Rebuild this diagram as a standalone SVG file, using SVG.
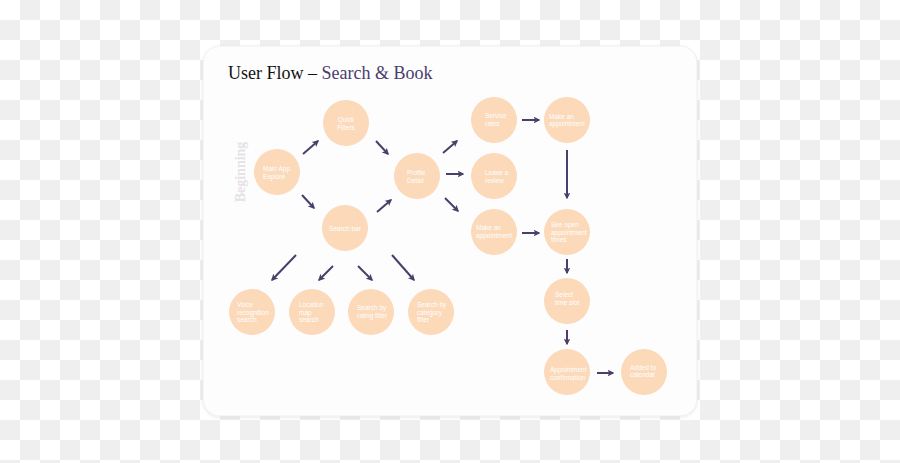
<svg xmlns="http://www.w3.org/2000/svg" width="900" height="463" viewBox="0 0 900 463">
<defs>
<pattern id="chk" width="40" height="40" patternUnits="userSpaceOnUse">
<rect width="40" height="40" fill="#ffffff"/>
<rect x="20" y="0" width="20" height="20" fill="#efefef"/>
<rect x="0" y="20" width="20" height="20" fill="#efefef"/>
</pattern>
<filter id="sh" x="-10%" y="-10%" width="120%" height="120%">
<feDropShadow dx="0" dy="1" stdDeviation="1.5" flood-color="#000" flood-opacity="0.1"/>
</filter>
<marker id="ah" viewBox="0 0 10 10" refX="8" refY="5" markerWidth="3.4" markerHeight="3.4" orient="auto" markerUnits="strokeWidth">
<path d="M0,0 L10,5 L0,10 L2.5,5 z" fill="#4a3e6a"/>
</marker>
<style>
.n{fill:#fbd9b9}
.t{font-family:"Liberation Sans",Arial,sans-serif;font-size:6.5px;fill:#ffffff}
.c{text-anchor:middle}
.a{stroke:#4a3e6a;stroke-width:2;fill:none;marker-end:url(#ah)}
</style>
</defs>
<rect width="900" height="463" fill="url(#chk)"/>
<rect x="203" y="46" width="494" height="370" rx="17" fill="#fefdfe" stroke="#eeebed" stroke-width="0.8" filter="url(#sh)"/>
<text x="228" y="79" font-family="'Liberation Serif','Times New Roman',serif" font-size="18"><tspan fill="#111111">User Flow – </tspan><tspan fill="#4a3e6a">Search &amp; Book</tspan></text>
<text transform="translate(245,172) rotate(-90)" text-anchor="middle" font-family="'Liberation Serif','Times New Roman',serif" font-size="14" font-weight="bold" fill="#e6e2e5">Beginning</text>
<g id="connectors">
<line class="a" x1="303" y1="154" x2="318" y2="141"/>
<line class="a" x1="302" y1="195" x2="314" y2="208"/>
<line class="a" x1="376" y1="141" x2="388" y2="154"/>
<line class="a" x1="377" y1="212" x2="391" y2="200"/>
<line class="a" x1="443" y1="153" x2="457" y2="141"/>
<line class="a" x1="446" y1="174" x2="463" y2="174"/>
<line class="a" x1="445" y1="198" x2="458" y2="211"/>
<line class="a" x1="522" y1="120" x2="539" y2="120"/>
<line class="a" x1="522" y1="233" x2="539" y2="233"/>
<line class="a" x1="567" y1="150" x2="567" y2="198"/>
<line class="a" x1="567" y1="259" x2="567" y2="273"/>
<line class="a" x1="567" y1="330" x2="567" y2="344"/>
<line class="a" x1="597" y1="373" x2="613" y2="373"/>
<line class="a" x1="296" y1="255" x2="272" y2="280"/>
<line class="a" x1="333" y1="266" x2="319" y2="280"/>
<line class="a" x1="358" y1="266" x2="372" y2="280"/>
<line class="a" x1="392" y1="255" x2="414" y2="280"/>
</g>
<g id="main"><circle class="n" cx="277" cy="172" r="23"/><text class="t" x="263" y="170.5">Main App</text><text class="t" x="263" y="178.5">Explore</text></g>
<g id="quick"><circle class="n" cx="346" cy="123" r="23"/><text class="t c" x="346" y="121.5">Quick</text><text class="t c" x="346" y="129.5">Filters</text></g>
<g id="searchbar"><circle class="n" cx="345" cy="228" r="23"/><text class="t c" x="345" y="230.5">Search bar</text></g>
<g id="profile"><circle class="n" cx="417" cy="176" r="23"/><text class="t" x="407" y="174.5">Profile</text><text class="t" x="407" y="182.5">Detail</text></g>
<g id="rates"><circle class="n" cx="494" cy="120" r="23"/><text class="t" x="485" y="117.5">Service</text><text class="t" x="485" y="125.5">rates</text></g>
<g id="review"><circle class="n" cx="494" cy="176" r="23"/><text class="t" x="485" y="174.5">Leave a</text><text class="t" x="485" y="182.5">review</text></g>
<g id="appt1"><circle class="n" cx="494" cy="232" r="23"/><text class="t" x="476" y="229.5">Make an</text><text class="t" x="476" y="237.5">appointment</text></g>
<g id="appt2"><circle class="n" cx="567" cy="120" r="23"/><text class="t" x="549" y="118.5">Make an</text><text class="t" x="549" y="125.5">appointment</text></g>
<g id="times"><circle class="n" cx="567" cy="232" r="23"/><text class="t" x="551" y="226.5">See open</text><text class="t" x="551" y="234.5">appointment</text><text class="t" x="551" y="241.5">times</text></g>
<g id="slot"><circle class="n" cx="567" cy="301" r="23"/><text class="t" x="555" y="296.5">Select</text><text class="t" x="555" y="304.5">time slot</text></g>
<g id="confirm"><circle class="n" cx="567" cy="372" r="23"/><text class="t" x="550" y="371.5">Appointment</text><text class="t" x="550" y="379.5">confirmation</text></g>
<g id="calendar"><circle class="n" cx="644" cy="372" r="23"/><text class="t" x="630" y="369.5">Added to</text><text class="t" x="630" y="376.5">calendar</text></g>
<g id="voice"><circle class="n" cx="252" cy="312" r="23"/><text class="t" x="237" y="306.5">Voice</text><text class="t" x="237" y="314.5">recognition</text><text class="t" x="237" y="321.5">search</text></g>
<g id="location"><circle class="n" cx="312" cy="312" r="23"/><text class="t" x="299" y="306.5">Location</text><text class="t" x="299" y="314.5">map</text><text class="t" x="299" y="321.5">search</text></g>
<g id="rating"><circle class="n" cx="371" cy="312" r="23"/><text class="t" x="357" y="309.5">Search by</text><text class="t" x="357" y="317.5">rating filter</text></g>
<g id="category"><circle class="n" cx="431" cy="312" r="23"/><text class="t" x="417" y="306.5">Search by</text><text class="t" x="417" y="314.5">category</text><text class="t" x="417" y="321.5">filter</text></g>
</svg>
